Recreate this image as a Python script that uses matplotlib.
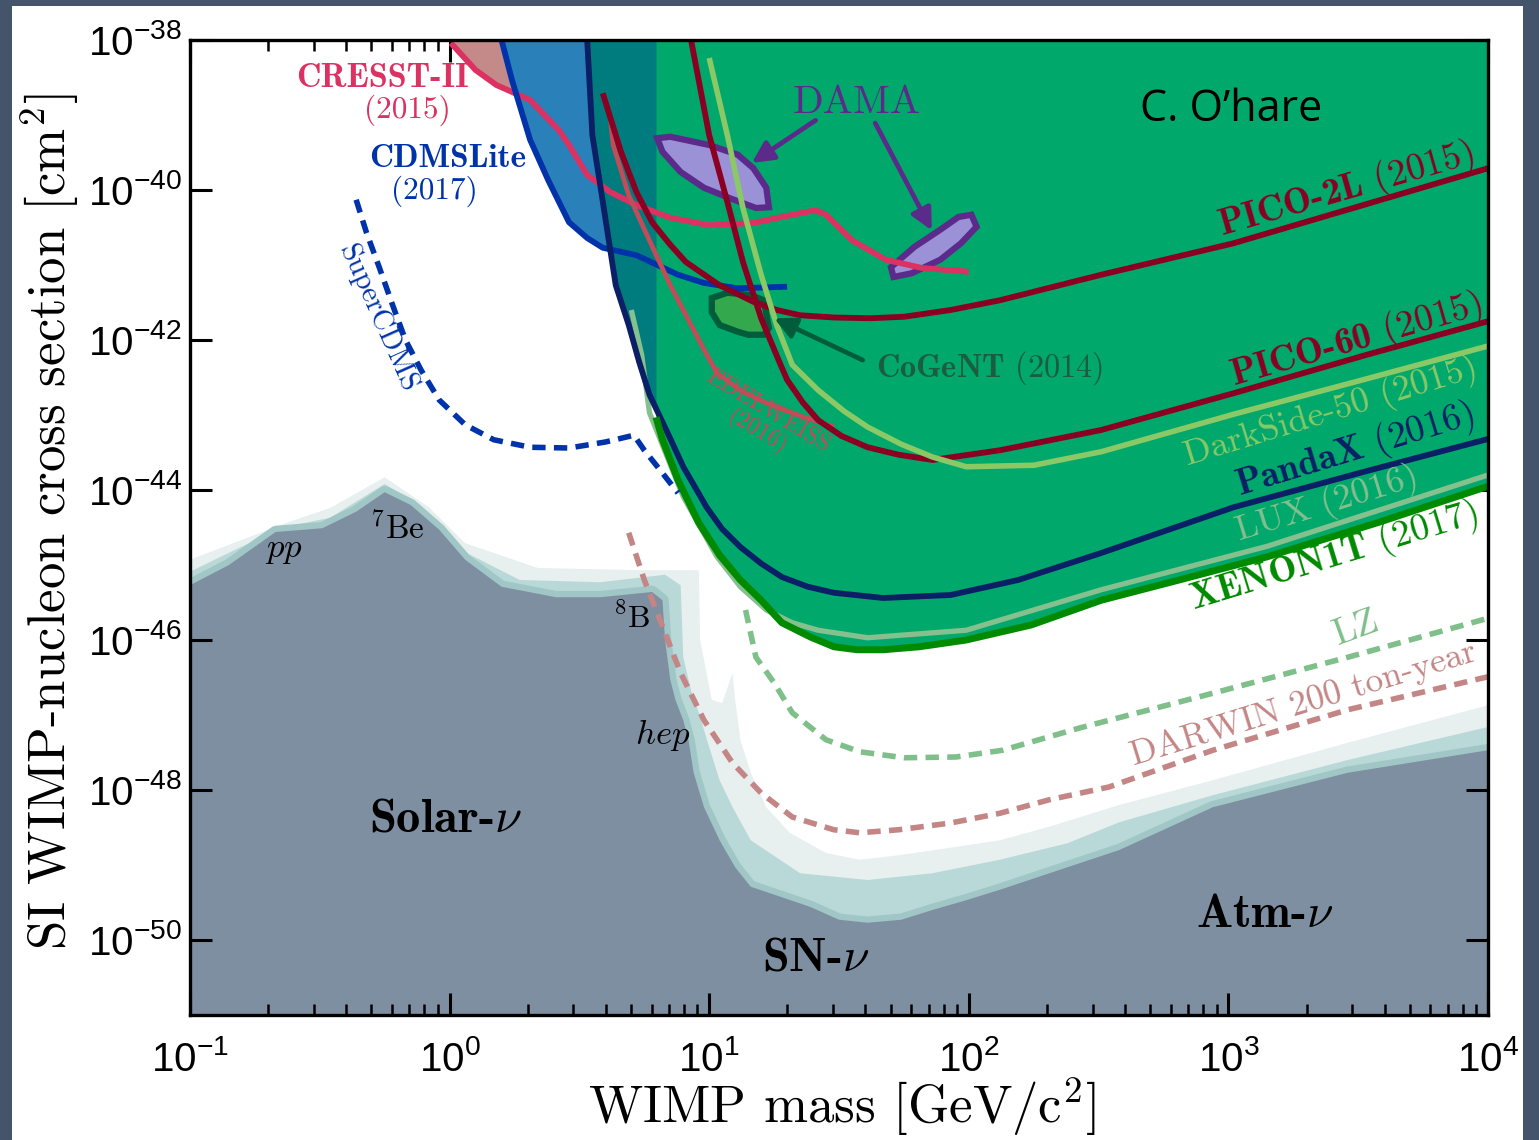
import numpy as np
import matplotlib.pyplot as plt
from matplotlib.patches import Rectangle
from matplotlib.ticker import FixedLocator, LogLocator, NullFormatter, NullLocator

# values: log10(WIMP mass / GeV) and log10(sigma / cm^2)

# neutrino floor, outer (lightest) edge, middle band edge, dark core edge
floor_light_logm = [-1.00, -0.63, -0.46, -0.25, -0.08, 0.06, 0.34, 0.75, 0.96, 0.965, 1.01, 1.05, 1.09,
                    1.10, 1.12, 1.16, 1.22, 1.31, 1.45, 1.58, 1.73, 1.93, 2.12, 2.31, 2.58, 2.94, 3.46, 4.00]
floor_light_logs = [-44.93, -44.44, -44.24, -43.83, -44.23, -44.71, -45.04, -45.07, -45.07, -46.00, -46.80,
                    -46.84, -46.44, -46.80, -47.33, -47.77, -48.23, -48.57, -48.84, -48.93, -48.87, -48.77,
                    -48.67, -48.49, -48.20, -47.87, -47.37, -46.87]
floor_mid_logm = [-1.00, -0.81, -0.63, -0.46, -0.25, -0.11, 0.06, 0.27, 0.58, 0.83, 0.89, 0.90, 0.93, 0.96,
                  1.00, 1.04, 1.09, 1.16, 1.35, 1.61, 1.86, 2.12, 2.38, 2.58, 2.94, 3.46, 4.00]
floor_mid_logs = [-45.09, -44.77, -44.49, -44.37, -43.92, -44.21, -44.83, -45.20, -45.23, -45.13, -45.27,
                  -46.23, -46.67, -46.97, -47.43, -47.87, -48.23, -48.67, -49.11, -49.20, -49.11, -48.93,
                  -48.71, -48.43, -48.07, -47.60, -47.16]
floor_dark_logm = [-1.00, -0.85, -0.67, -0.49, -0.36, -0.25, -0.15, -0.04, 0.06, 0.20, 0.41, 0.58, 0.78,
                   0.82, 0.83, 0.85, 0.87, 0.90, 0.92, 0.94, 0.98, 1.04, 1.10, 1.16, 1.28, 1.39, 1.50, 1.61,
                   1.74, 1.86, 1.99, 2.12, 2.38, 2.58, 2.94, 3.46, 4.00]
floor_dark_logs = [-45.27, -45.00, -44.56, -44.51, -44.29, -44.03, -44.20, -44.53, -44.93, -45.29, -45.43,
                   -45.43, -45.36, -45.47, -46.00, -46.53, -46.80, -47.07, -47.33, -47.77, -48.23, -48.67,
                   -49.03, -49.29, -49.43, -49.56, -49.73, -49.77, -49.73, -49.60, -49.47, -49.33, -49.03,
                   -48.80, -48.23, -47.77, -47.47]

# current limits
cresst_logm = [0.005, 0.10, 0.18, 0.31, 0.42, 0.46, 0.53, 0.62, 0.72, 0.85, 1.00, 1.17, 1.35, 1.41, 1.45,
               1.55, 1.68, 1.82, 2.00]
cresst_logs = [-38.04, -38.40, -38.60, -38.80, -39.20, -39.40, -39.80, -40.03, -40.20, -40.37, -40.47,
               -40.44, -40.31, -40.27, -40.33, -40.67, -40.93, -41.04, -41.09]
cdms_logm = [0.20, 0.24, 0.31, 0.38, 0.46, 0.53, 0.59, 0.72, 0.80, 0.88, 0.98, 1.11, 1.30]
cdms_logs = [-38.00, -38.53, -39.33, -39.87, -40.43, -40.64, -40.77, -40.87, -41.00, -41.13, -41.24,
             -41.31, -41.29]
pandax_logm = [0.53, 0.55, 0.58, 0.61, 0.64, 0.69, 0.73, 0.77, 0.84, 0.90, 0.99, 1.05, 1.12, 1.20, 1.28,
               1.38, 1.48, 1.67, 1.93, 2.19, 2.51, 3.02, 3.53, 4.00]
pandax_logs = [-38.00, -39.27, -39.93, -40.60, -41.27, -41.80, -42.29, -42.73, -43.24, -43.69, -44.23,
               -44.52, -44.76, -44.98, -45.16, -45.29, -45.37, -45.44, -45.40, -45.20, -44.84, -44.23,
               -43.75, -43.32]
lux_logm = [0.70, 0.74, 0.77, 0.90, 1.03, 1.12, 1.22, 1.32, 1.42, 1.61, 1.99, 2.51, 3.15, 4.00]
lux_logs = [-41.60, -42.20, -42.97, -44.09, -44.89, -45.29, -45.60, -45.77, -45.87, -45.97, -45.87, -45.33,
            -44.75, -43.80]
xenon_logm = [0.795, 0.82, 0.88, 0.96, 1.04, 1.12, 1.20, 1.28, 1.39, 1.48, 1.57, 1.67, 1.81, 1.99, 2.24,
              2.51, 2.81, 3.15, 3.58, 4.00]
xenon_logs = [-43.03, -43.33, -43.87, -44.44, -44.87, -45.20, -45.47, -45.77, -45.96, -46.09, -46.13,
              -46.13, -46.09, -46.00, -45.80, -45.47, -45.20, -44.89, -44.43, -43.95]
darkside_logm = [1.00, 1.07, 1.13, 1.20, 1.26, 1.32, 1.42, 1.52, 1.61, 1.74, 1.86, 1.99, 2.25, 2.51, 3.02,
                 3.53, 4.00]
darkside_logs = [-38.24, -39.27, -40.24, -41.13, -41.80, -42.33, -42.67, -42.95, -43.16, -43.39, -43.56,
                 -43.69, -43.67, -43.49, -42.99, -42.52, -42.08]
pico60_logm = [0.93, 1.00, 1.07, 1.13, 1.20, 1.27, 1.30, 1.36, 1.42, 1.51, 1.61, 1.73, 1.86, 2.12, 2.51,
               3.02, 3.53, 4.00]
pico60_logs = [-38.00, -39.27, -40.16, -40.96, -41.71, -42.29, -42.53, -42.83, -43.07, -43.28, -43.43,
               -43.53, -43.60, -43.47, -43.20, -42.71, -42.20, -41.75]
pico2l_logm = [0.59, 0.66, 0.72, 0.78, 0.85, 0.91, 1.04, 1.17, 1.26, 1.35, 1.48, 1.62, 1.75, 1.93, 2.12,
               2.51, 3.02, 3.53, 4.00]
pico2l_logs = [-38.71, -39.49, -40.03, -40.43, -40.73, -40.96, -41.27, -41.49, -41.60, -41.67, -41.70,
               -41.71, -41.69, -41.60, -41.47, -41.13, -40.71, -40.19, -39.71]
edelweiss_logm = [0.62, 0.63, 0.69, 0.76, 0.85, 0.98, 1.03, 1.12, 1.22, 1.35, 1.48]
edelweiss_logs = [-39.07, -39.40, -40.07, -40.60, -41.27, -42.13, -42.44, -42.67, -42.84, -43.01, -43.16]

# projections
supercdms_logm = [-0.36, -0.32, -0.27, -0.22, -0.17, -0.11, -0.04, 0.06, 0.17, 0.31, 0.46, 0.60, 0.71,
                  0.75, 0.81, 0.88]
supercdms_logs = [-40.13, -40.57, -41.04, -41.53, -42.00, -42.40, -42.80, -43.13, -43.33, -43.43, -43.44,
                  -43.36, -43.27, -43.47, -43.73, -44.04]
lz_logm = [1.14, 1.18, 1.25, 1.32, 1.45, 1.58, 1.75, 1.95, 2.13, 2.43, 2.94, 3.46, 4.00]
lz_logs = [-45.60, -46.23, -46.57, -46.97, -47.33, -47.49, -47.57, -47.56, -47.47, -47.17, -46.71, -46.23,
           -45.71]
darwin_logm = [0.69, 0.75, 0.81, 0.89, 0.98, 1.09, 1.20, 1.32, 1.48, 1.58, 1.73, 1.93, 2.12, 2.31, 2.54,
               2.94, 3.46, 4.00]
darwin_logs = [-44.57, -45.20, -45.73, -46.44, -47.07, -47.64, -48.04, -48.36, -48.53, -48.57, -48.53,
               -48.44, -48.31, -48.13, -47.96, -47.47, -46.93, -46.49]

# signal claims
dama1_logm = [0.80, 0.85, 1.00, 1.11, 1.17, 1.22, 1.23, 1.18, 1.08, 0.98, 0.89, 0.82]
dama1_logs = [-39.31, -39.29, -39.40, -39.53, -39.71, -39.97, -40.23, -40.24, -40.11, -39.97, -39.76, -39.49]
dama2_logm = [2.01, 2.03, 1.97, 1.89, 1.78, 1.71, 1.70, 1.79, 1.89, 1.96]
dama2_logs = [-40.33, -40.49, -40.71, -40.93, -41.11, -41.16, -41.03, -40.76, -40.53, -40.36]
cogent_logm = [1.01, 1.07, 1.16, 1.21, 1.23, 1.21, 1.15, 1.11, 1.04, 1.01]
cogent_logs = [-41.44, -41.37, -41.40, -41.47, -41.84, -41.93, -41.93, -41.89, -41.80, -41.63]

x_ticks = [1e-1, 1e0, 1e1, 1e2, 1e3, 1e4]
x_ticklabels = ['$10^{-1}$', '$10^{0}$', '$10^{1}$', '$10^{2}$', '$10^{3}$', '$10^{4}$']
y_ticks = [1e-50, 1e-48, 1e-46, 1e-44, 1e-42, 1e-40, 1e-38]
y_ticklabels = ['$10^{-50}$', '$10^{-48}$', '$10^{-46}$', '$10^{-44}$', '$10^{-42}$', '$10^{-40}$', '$10^{-38}$']


def lin(a):
    return 10.0 ** np.asarray(a, dtype=float)


plt.rcParams['mathtext.fontset'] = 'custom'
plt.rcParams['mathtext.rm'] = 'Liberation Sans'
plt.rcParams['mathtext.it'] = 'Liberation Sans:italic'
plt.rcParams['mathtext.bf'] = 'Liberation Sans:bold'
plt.rcParams['font.family'] = 'Liberation Sans'

CM = dict(fontfamily='cmr10', math_fontfamily='cm')
CMB = dict(fontfamily='cmb10', math_fontfamily='cm')

fig = plt.figure(figsize=(15.39, 11.40), dpi=100, facecolor='#44546a')
fig.patches.append(Rectangle((12 / 1539, 0), 1511 / 1539, 1134 / 1140, transform=fig.transFigure,
                             facecolor='white', edgecolor='none', zorder=-10))
ax = fig.add_axes([190 / 1539, 125 / 1140, 1298 / 1539, 975 / 1140])
ax.set_xscale('log')
ax.set_yscale('log')
ax.set_xlim(1e-1, 1e4)
ax.set_ylim(1e-51, 1e-38)
BOT = 1e-53
TOP = 1e-38

# neutrino floor
def floor_fill(logm, logs, color, z):
    m = lin(logm)
    s = lin(logs)
    ax.fill(np.r_[m, m[-1], m[0]], np.r_[s, BOT, BOT], color=color, lw=0, zorder=z)

floor_fill(floor_light_logm, floor_light_logs, '#e7efef', 1.0)
floor_fill(floor_mid_logm, floor_mid_logs, '#b9d8d8', 1.1)
ax.plot(lin(floor_dark_logm), lin(floor_dark_logs), color='#a0c6c6', lw=9, zorder=1.2,
        solid_joinstyle='round')
floor_fill(floor_dark_logm, floor_dark_logs, '#7e8fa1', 1.3)

# excluded regions
ax.fill_between(lin(cresst_logm), lin(cresst_logs), TOP, color='#c48a8a', lw=0, zorder=1.5)
ax.fill_between(lin(cdms_logm), lin(cdms_logs), TOP, color='#2a80b9', lw=0, zorder=1.6)
ax.fill_between(lin(pandax_logm), lin(pandax_logs), TOP, color='#007c7e', lw=0, zorder=1.7)
ax.fill_between(lin(xenon_logm), lin(xenon_logs), TOP, color='#00a86b', lw=0, zorder=1.8)

# signal regions
ax.fill(lin(dama1_logm), lin(dama1_logs), facecolor='#9b91d7', edgecolor='#5b2a8a', lw=4.5, zorder=3)
ax.fill(lin(dama2_logm), lin(dama2_logs), facecolor='#9b91d7', edgecolor='#5b2a8a', lw=4.5, zorder=3)
ax.fill(lin(cogent_logm), lin(cogent_logs), facecolor='#33a84c', edgecolor='#005c3a', lw=4.5, zorder=3)

# limit curves
lines = [
    (cresst_logm, cresst_logs, '#dc3262', 4.2),
    (cdms_logm, cdms_logs, '#0033aa', 4.2),
    (edelweiss_logm, edelweiss_logs, '#c24d58', 3.4),
    (pico2l_logm, pico2l_logs, '#8b0022', 4.2),
    (pico60_logm, pico60_logs, '#8b0022', 4.2),
    (darkside_logm, darkside_logs, '#8bc866', 4.0),
    (lux_logm, lux_logs, '#85c08e', 3.8),
    (pandax_logm, pandax_logs, '#0a1f66', 4.2),
    (xenon_logm, xenon_logs, '#008a00', 5.0),
]
for i, (lm, ls, col, lw) in enumerate(lines):
    ax.plot(lin(lm), lin(ls), color=col, lw=lw, zorder=4 + 0.01 * i, solid_capstyle='butt',
            solid_joinstyle='round')

# projections
dash = (0, (2.4, 1.5))
ax.plot(lin(supercdms_logm), lin(supercdms_logs), color='#0033aa', lw=4.0, ls=dash, zorder=4.2)
ax.plot(lin(lz_logm), lin(lz_logs), color='#7fbf8a', lw=4.0, ls=dash, zorder=4.2)
ax.plot(lin(darwin_logm), lin(darwin_logs), color='#c48585', lw=4.0, ls=dash, zorder=4.2)

# arrows
arr = dict(arrowstyle='-|>', lw=3.4, mutation_scale=32, shrinkA=0, shrinkB=0)
ax.annotate('', xy=(14.6, 2.3e-40), xytext=(25.7, 8.5e-40), arrowprops=dict(color='#5b2a8a', **arr), zorder=5)
ax.annotate('', xy=(72, 2.9e-41), xytext=(43.6, 7.8e-40), arrowprops=dict(color='#5b2a8a', **arr), zorder=5)
ax.annotate('', xy=(17.8, 1.95e-42), xytext=(39, 5.4e-43), arrowprops=dict(color='#005c3a', **arr), zorder=5)

# labels
def label(x, y, s, color, size, rot=0, font=CM, ha='center'):
    ax.text(x, y, s, color=color, fontsize=size, rotation=rot, ha=ha, va='center',
            rotation_mode='anchor', zorder=6, **font)

label(0.55, 3.1e-39, 'CRESST-II', '#dc3262', 24.5, font=CMB)
label(0.69, 1.17e-39, '(2015)', '#dc3262', 22.5)
label(0.98, 2.6e-40, 'CDMSLite', '#0033aa', 24, font=CMB)
label(0.87, 9.5e-41, '(2017)', '#0033aa', 22.5)
label(0.53, 1.96e-42, 'SuperCDMS', '#0033aa', 21, rot=-66)
label(37, 1.45e-39, 'DAMA', '#5b2a8a', 29)
label(2840, 1.0e-40, r'PICO-2L $\mathrm{(2015)}$', '#8b0022', 27, rot=16, font=CMB)
label(3100, 1.0e-42, r'PICO-60 $\mathrm{(2015)}$', '#8b0022', 27, rot=16, font=CMB)
label(2480, 1.1e-43, 'DarkSide-50 (2015)', '#8bc866', 26, rot=17)
label(3080, 3.4e-44, r'PandaX $\mathrm{(2016)}$', '#0a1f66', 27, rot=17, font=CMB)
label(2400, 6.5e-45, 'LUX (2016)', '#85c08e', 26, rot=17)
label(2560, 1.3e-45, r'XENON1T $\mathrm{(2017)}$', '#008a00', 27, rot=17, font=CMB)
label(3100, 1.45e-46, 'LZ', '#7fbf8a', 27, rot=20)
label(1950, 1.4e-47, 'DARWIN 200 ton-year', '#c48585', 25.5, rot=17)
label(43.9, 4.2e-43, r'CoGeNT $\mathrm{(2014)}$', '#1b5e3f', 23.3, font=CMB, ha='left')
label(16.8, 1.1e-43, 'EDELWEISS', '#c24d58', 17, rot=-31)
label(15.3, 5.9e-44, '(2016)', '#c24d58', 17, rot=-31)
label(0.229, 1.58e-45, '$pp$', 'black', 25)
label(0.63, 3.1e-45, '$^7$Be', 'black', 24)
label(5.05, 1.95e-46, '$^8$B', 'black', 23)
label(6.64, 5.4e-48, '$hep$', 'black', 25)
label(0.96, 4.0e-49, r'Solar-$\nu$', 'black', 35, font=CMB)
label(25.6, 5.7e-51, r'SN-$\nu$', 'black', 34.5, font=CMB)
label(1380, 2.15e-50, r'Atm-$\nu$', 'black', 34.5, font=CMB)
ax.text(1020, 1.17e-39, 'C. O\u2019hare', fontsize=31, fontfamily='Open Sans', color='black',
        ha='center', va='center', zorder=6)

# axes styling
ax.xaxis.set_major_locator(FixedLocator(x_ticks))
ax.set_xticklabels(x_ticklabels)
ax.xaxis.set_minor_locator(LogLocator(base=10, subs=np.arange(2, 10)))
ax.xaxis.set_minor_formatter(NullFormatter())
ax.yaxis.set_major_locator(FixedLocator(y_ticks))
ax.set_yticklabels(y_ticklabels)
ax.yaxis.set_minor_locator(NullLocator())
ax.tick_params(which='both', direction='in', top=True, right=True, labelsize=29, colors='black')
ax.tick_params(which='major', length=16, width=2.2)
ax.tick_params(which='minor', length=8, width=1.8)
ax.tick_params(axis='x', pad=18)
ax.tick_params(axis='y', pad=6)
for sp in ax.spines.values():
    sp.set_linewidth(2.4)
    sp.set_zorder(7)

fig.text(50 / 1539, 1 - 522 / 1140, 'SI WIMP-nucleon cross section [cm$^2$]', rotation=90,
         ha='center', va='center', fontsize=38, **CM)
fig.text(842 / 1539, 1 - 1107 / 1140, 'WIMP mass [GeV/c$^2$]', ha='center', va='center',
         fontsize=38, **CM)

fig.savefig('out.png', dpi=100)
